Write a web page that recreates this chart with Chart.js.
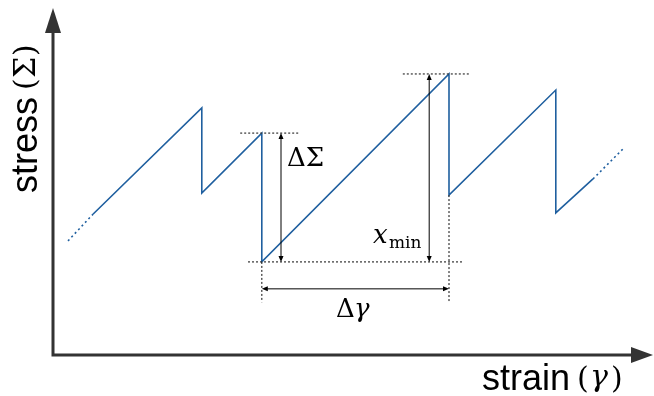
<!DOCTYPE html>
<html>
<head>
<meta charset="utf-8">
<script src="https://cdn.jsdelivr.net/npm/chart.js@4"></script>
<style>
  body { margin: 0; background: #fff; }
  canvas { display: block; }
</style>
</head>
<body>
<canvas id="myChart" width="654" height="396"></canvas>
<script>
// sawtooth, arbitrary units (strain 0..100, stress 0..100)
const strainSolid = [6.7, 24.8, 24.8, 34.8, 34.8, 66, 66, 83.8, 83.8, 90];
const stressSolid = [40.3, 70.6, 46.3, 63.4, 26.6, 80.3, 45.7, 75.7, 40.6, 50.3];
const strainStart = [2.5, 6.7];
const stressStart = [32.6, 40.3];
const strainEnd = [90, 95.3];
const stressEnd = [50.3, 59.4];

// annotation levels
const dSigmaTop = 63.4, dSigmaBottom = 26.6, dSigmaX = 38;
const xminTop = 80.3, xminX = 62.7;
const dGammaLeft = 34.8, dGammaRight = 66, dGammaY = 18.9, dGammaDrop = 15.1;

const toPoints = (xs, ys) => xs.map((x, i) => ({x: x, y: ys[i]}));
const lineBlue = '#1f5f9f';
const SERIF = '"DejaVu Serif", "Liberation Serif", serif';
const SANS = '"Liberation Sans", Arial, sans-serif';

function arrowHead(c, x, y, dx, dy) {
  const len = 6, w = 2.5;
  c.beginPath();
  c.moveTo(x, y);
  c.lineTo(x - dx * len - dy * w, y - dy * len + dx * w);
  c.lineTo(x - dx * len + dy * w, y - dy * len - dx * w);
  c.closePath();
  c.fill();
}

function doubleArrow(c, x1, y1, x2, y2) {
  const d = Math.hypot(x2 - x1, y2 - y1);
  const dx = (x2 - x1) / d, dy = (y2 - y1) / d;
  c.beginPath();
  c.moveTo(x1 + dx * 3, y1 + dy * 3);
  c.lineTo(x2 - dx * 3, y2 - dy * 3);
  c.stroke();
  arrowHead(c, x2, y2, dx, dy);
  arrowHead(c, x1, y1, -dx, -dy);
}

function dotted(c, x1, y1, x2, y2) {
  c.save();
  c.setLineDash([2, 2]);
  c.beginPath();
  c.moveTo(x1, y1);
  c.lineTo(x2, y2);
  c.stroke();
  c.restore();
}

const sketch = {
  id: 'sketch',
  afterDraw(chart) {
    const c = chart.ctx;
    const xs = chart.scales.x, ys = chart.scales.y;
    const X = v => xs.getPixelForValue(v), Y = v => ys.getPixelForValue(v);
    const area = chart.chartArea;

    c.save();
    // axes with arrow heads
    c.strokeStyle = '#333';
    c.fillStyle = '#333';
    c.lineWidth = 3;
    c.beginPath();
    c.moveTo(X(0), Y(0) + 1.5);
    c.lineTo(X(0), area.top + 20);
    c.moveTo(X(0) - 1.5, Y(0));
    c.lineTo(area.right - 18, Y(0));
    c.stroke();
    c.beginPath();
    c.moveTo(X(0), area.top + 3);
    c.lineTo(X(0) - 8, area.top + 28);
    c.lineTo(X(0) + 8, area.top + 28);
    c.closePath();
    c.fill();
    c.beginPath();
    c.moveTo(area.right, Y(0));
    c.lineTo(area.right - 22, Y(0) - 8);
    c.lineTo(area.right - 22, Y(0) + 8);
    c.closePath();
    c.fill();

    // dotted guide lines
    c.strokeStyle = '#333';
    c.lineWidth = 1.2;
    dotted(c, X(31.2), Y(dSigmaTop), X(41.2), Y(dSigmaTop));
    dotted(c, X(32.5), Y(dSigmaBottom), X(68.2), Y(dSigmaBottom));
    dotted(c, X(58.3), Y(xminTop), X(69.5), Y(xminTop));
    dotted(c, X(dGammaLeft), Y(dSigmaBottom), X(dGammaLeft), Y(dGammaDrop));
    dotted(c, X(dGammaRight), Y(45.7), X(dGammaRight), Y(dGammaDrop));

    // arrows
    c.strokeStyle = '#000';
    c.fillStyle = '#000';
    c.lineWidth = 1;
    doubleArrow(c, X(dSigmaX), Y(dSigmaTop), X(dSigmaX), Y(dSigmaBottom));
    doubleArrow(c, X(xminX), Y(xminTop), X(xminX), Y(dSigmaBottom));
    doubleArrow(c, X(dGammaLeft), Y(dGammaY), X(dGammaRight), Y(dGammaY));

    // labels
    c.fillStyle = '#000';
    c.textBaseline = 'alphabetic';
    c.textAlign = 'left';
    c.font = '26px ' + SERIF;
    c.fillText('ΔΣ', 287, 166);
    c.fillText('Δ', 336, 317);
    c.font = 'italic 26px ' + SERIF;
    c.fillText('γ', 354, 317);
    c.fillText('x', 373, 243);
    c.font = '17px ' + SERIF;
    c.fillText('min', 389, 248);

    // axis titles
    c.font = '36px ' + SANS;
    c.fillText('strain', 482, 390);
    c.font = '30px ' + SERIF;
    c.fillText('(', 577, 388);
    c.fillText(')', 611, 388);
    c.font = 'italic 30px ' + SERIF;
    c.fillText('γ', 590, 386);

    c.save();
    c.translate(37, 193);
    c.rotate(-Math.PI / 2);
    c.font = '36px ' + SANS;
    c.fillText('stress', 0, 0);
    c.font = '30px ' + SERIF;
    c.fillText('(', 103, -2);
    c.fillText('Σ', 115, -2);
    c.fillText(')', 137, -2);
    c.restore();

    c.restore();
  }
};

new Chart(document.getElementById('myChart'), {
  type: 'scatter',
  data: {
    datasets: [
      {data: toPoints(strainSolid, stressSolid), showLine: true, borderColor: lineBlue, borderWidth: 1.6, pointRadius: 0, tension: 0},
      {data: toPoints(strainStart, stressStart), showLine: true, borderColor: lineBlue, borderWidth: 1.6, borderDash: [2, 3], pointRadius: 0},
      {data: toPoints(strainEnd, stressEnd), showLine: true, borderColor: lineBlue, borderWidth: 1.6, borderDash: [2, 3], pointRadius: 0}
    ]
  },
  options: {
    responsive: false,
    animation: false,
    layout: {padding: {left: 53, right: 1, top: 5, bottom: 41}},
    scales: {
      x: {type: 'linear', min: 0, max: 100, display: false},
      y: {type: 'linear', min: 0, max: 100, display: false}
    },
    plugins: {legend: {display: false}, tooltip: {enabled: false}}
  },
  plugins: [sketch]
});
</script>
</body>
</html>
